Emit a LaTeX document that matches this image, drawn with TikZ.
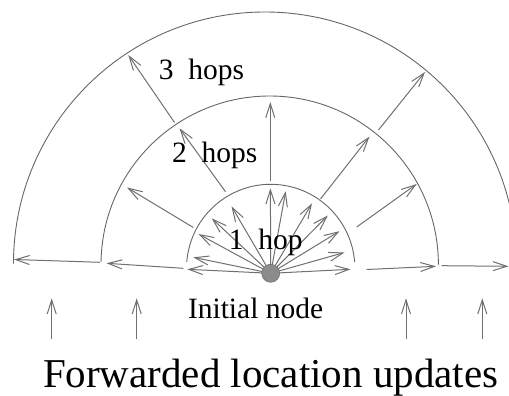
\documentclass[tikz,border=0pt]{standalone}
\usepackage{fontspec}
\setmainfont{Liberation Serif}
\newfontfamily\timesfont{Liberation Serif}
\usetikzlibrary{arrows.meta}
\definecolor{linegray}{HTML}{707070}
\definecolor{ringgray}{HTML}{666666}
\definecolor{dotgray}{HTML}{8C8C8C}
\begin{document}
\begin{tikzpicture}[x=1pt,y=-1pt,
  ring/.style={draw=ringgray, line width=0.9pt},
  fwd/.style={draw=linegray, line width=1pt, -{Straight Barb[length=14pt,width=9pt]}},
  lbl/.style={inner sep=0pt, anchor=base west, text=black, font=\timesfont\fontsize{29.5}{30}\selectfont},
  big/.style={inner sep=0pt, anchor=base west, text=black, font=\timesfont\fontsize{41}{42}\selectfont},
  dotnode/.style={circle, fill=dotgray, draw=linegray, line width=0.6pt, minimum size=18pt, inner sep=0pt}
]
\useasboundingbox (0,0) rectangle (509,396);
\begin{scope}
\clip (0,0) rectangle (509,396);
% rings
\draw[ring] (270.7,268.5) ++(184.5:84.2) arc[start angle=184.5, end angle=355.5, radius=84.2];
\draw[ring] (269.7,264.7) ++(181:168.7) arc[start angle=181, end angle=360, radius=168.7];
\draw[ring] (265,263.5) ++(180:251.5) arc[start angle=180, end angle=360, radius=251.5];

% coordinates
\coordinate (c) at (270.7,273.3);
\coordinate (a1) at (187.3,269.3);
\coordinate (a2) at (193.3,257.3);
\coordinate (a3) at (198.5,234.0);
\coordinate (a4) at (211.7,218.3);
\coordinate (a5) at (231.5,206.3);
\coordinate (a6) at (270.4,188.3);
\coordinate (a7) at (285.7,191.2);
\coordinate (a8) at (312.0,203.3);
\coordinate (a9) at (327.8,215.5);
\coordinate (a10) at (339.5,231.2);
\coordinate (a11) at (344.5,252.5);
\coordinate (a12) at (350.5,269.3);

\coordinate (b1s) at (183.3,268.3); \coordinate (b1) at (106.5,263.3);
\coordinate (b2s) at (193.3,227.5); \coordinate (b2) at (127.0,187.5);
\coordinate (b3s) at (225.5,191.7); \coordinate (b3) at (179.5,128.3);
\coordinate (b4s) at (270.3,181.0); \coordinate (b4) at (270.3,102.0);
\coordinate (b5s) at (320.5,199.0); \coordinate (b5) at (369.5,136.5);
\coordinate (b6s) at (356.7,227.0); \coordinate (b6) at (416.7,184.0);
\coordinate (b7s) at (366.7,269.5); \coordinate (b7) at (436.0,266.3);

\coordinate (d1s) at (100.0,262.3); \coordinate (d1) at (14.0,259.5);
\coordinate (d2s) at (174.5,122.5); \coordinate (d2) at (128.3,55.0);
\coordinate (d3s) at (378.5,130.0); \coordinate (d3) at (425.0,72.0);
\coordinate (d4s) at (441.7,265.7); \coordinate (d4) at (508.5,266.3);

\coordinate (e1s) at (51.7,339.3);  \coordinate (e1) at (51.7,298.3);
\coordinate (e2s) at (136.7,339.3); \coordinate (e2) at (136.7,298.3);
\coordinate (e3s) at (406.0,339.3); \coordinate (e3) at (406.0,298.3);
\coordinate (e4s) at (482.3,339.3); \coordinate (e4) at (482.3,298.3);

% 1 hop
\foreach \t in {a1,a2,a3,a4,a5,a6,a7,a8,a9,a10,a11,a12}
  \draw[fwd] (c) -- (\t);
% 2 hops
\foreach \t in {b1,b2,b3,b4,b5,b6,b7}
  \draw[fwd] (\t s) -- (\t);
% 3 hops
\foreach \t in {d1,d2,d3,d4}
  \draw[fwd] (\t s) -- (\t);
% forwarded updates
\foreach \t in {e1,e2,e3,e4}
  \draw[fwd] (\t s) -- (\t);
\end{scope}

\node[dotnode] (init) at (c) {};

\node[lbl] (l3) at (158.7,79.3) {3~~hops};
\node[lbl] (l2) at (171.8,162.7) {2~~hops};
\node[lbl] (l1) at (228.6,249.0) {1~~hop};
\node[lbl] (linit) at (187.8,318.0) {Initial node};
\node[big] (lfwd) at (42.8,387.5) {Forwarded location updates};
\end{tikzpicture}
\end{document}
